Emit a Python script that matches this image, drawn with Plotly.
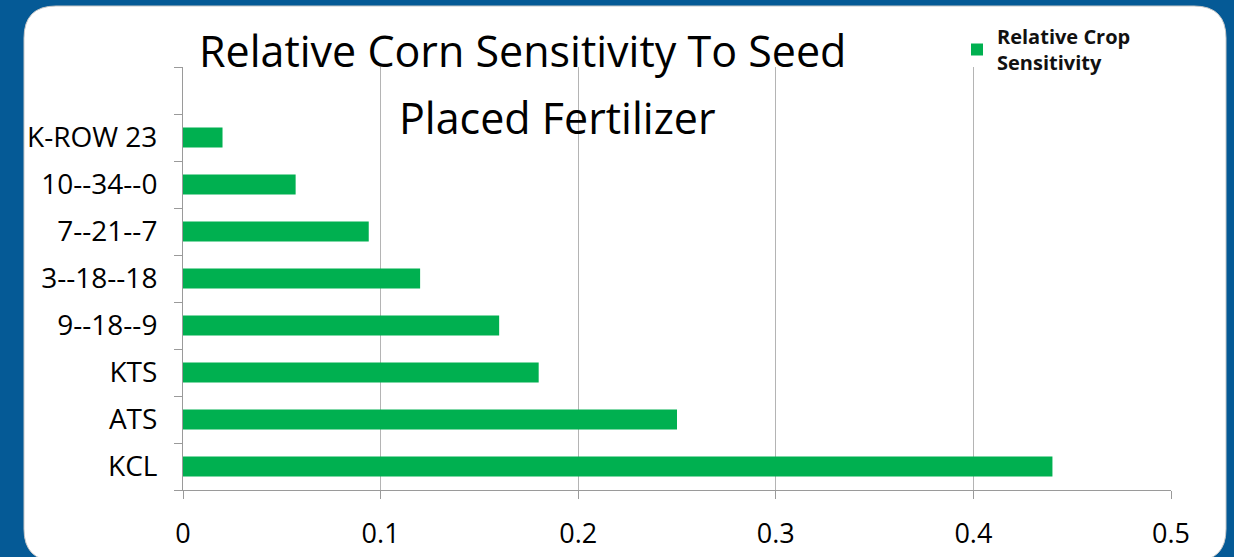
import plotly.graph_objects as go

categories = ["KCL", "ATS", "KTS", "9--18--9", "3--18--18", "7--21--7", "10--34--0", "K-ROW 23"]
sensitivity = [0.44, 0.25, 0.18, 0.16, 0.12, 0.094, 0.057, 0.02]
x_ticks = [0, 0.1, 0.2, 0.3, 0.4, 0.5]
x_tick_labels = ["0", "0.1", "0.2", "0.3", "0.4", "0.5"]
cat_order = categories + [" "]

W, H = 1234, 557
L, R, T, B = 183, 63, 67, 67
pw, ph = W - L - R, H - T - B

def px(x):
    return (x - L) / pw

def py(y):
    return (H - B - y) / ph

fig = go.Figure()
fig.add_trace(go.Bar(
    x=sensitivity, y=categories, orientation="h",
    marker=dict(color="#00B050", line=dict(width=0)),
    name="Relative Crop<br>Sensitivity",
    showlegend=True,
))

# rounded white panel
x0, x1, y0, y1, r = 24, 1226, 6, 561, 32
path = (f"M {px(x0)},{py(y0 + r)} L {px(x0)},{py(y1 - r)} Q {px(x0)},{py(y1)} {px(x0 + r)},{py(y1)} "
        f"L {px(x1 - r)},{py(y1)} Q {px(x1)},{py(y1)} {px(x1)},{py(y1 - r)} "
        f"L {px(x1)},{py(y0 + r)} Q {px(x1)},{py(y0)} {px(x1 - r)},{py(y0)} "
        f"L {px(x0 + r)},{py(y0)} Q {px(x0)},{py(y0)} {px(x0)},{py(y0 + r)} Z")
fig.add_shape(type="path", path=path, xref="paper", yref="paper",
              fillcolor="white", line=dict(color="#C8C8C8", width=1), layer="below")

title_font = dict(family="Open Sans", size=43, color="black")
fig.add_annotation(text="Relative Corn Sensitivity To Seed", x=px(522), y=py(50),
                   xref="paper", yref="paper", showarrow=False, font=title_font,
                   xanchor="center", yanchor="middle")
fig.add_annotation(text="Placed Fertilizer", x=px(557), y=py(118),
                   xref="paper", yref="paper", showarrow=False, font=title_font,
                   xanchor="center", yanchor="middle")

fig.update_layout(
    width=W, height=H,
    margin=dict(l=L, r=R, t=T, b=B, pad=0, autoexpand=False),
    paper_bgcolor="#055A96",
    plot_bgcolor="rgba(0,0,0,0)",
    bargap=0.57,
    showlegend=True,
    legend=dict(x=px(957), y=py(17), xref="paper", yref="paper", xanchor="left", yanchor="top",
                bgcolor="rgba(0,0,0,0)", font=dict(family="Open Sans", size=20, color="#111111", weight="bold"),
                itemwidth=30, tracegroupgap=0),
    xaxis=dict(range=[0, 0.5], tickvals=x_ticks, ticktext=x_tick_labels,
               showgrid=True, gridcolor="#B4B4B4", gridwidth=1, zeroline=False,
               showline=True, linecolor="#9A9A9A", linewidth=1,
               ticks="outside", ticklen=8, tickcolor="#9A9A9A",
               tickfont=dict(family="Open Sans", size=27, color="black"),
               ticklabelstandoff=12),
    yaxis=dict(type="category", categoryorder="array", categoryarray=cat_order,
               range=[-0.5, 8.5], tickson="boundaries",
               showgrid=False, zeroline=False,
               showline=True, linecolor="#9A9A9A", linewidth=1,
               ticks="outside", ticklen=8, tickcolor="#9A9A9A",
               tickfont=dict(family="Open Sans", size=28, color="black"),
               ticklabelstandoff=19),
)

fig.write_html("out.html", config={"displayModeBar": False},
               post_script="document.body.style.margin='0';document.body.style.overflow='hidden';")
